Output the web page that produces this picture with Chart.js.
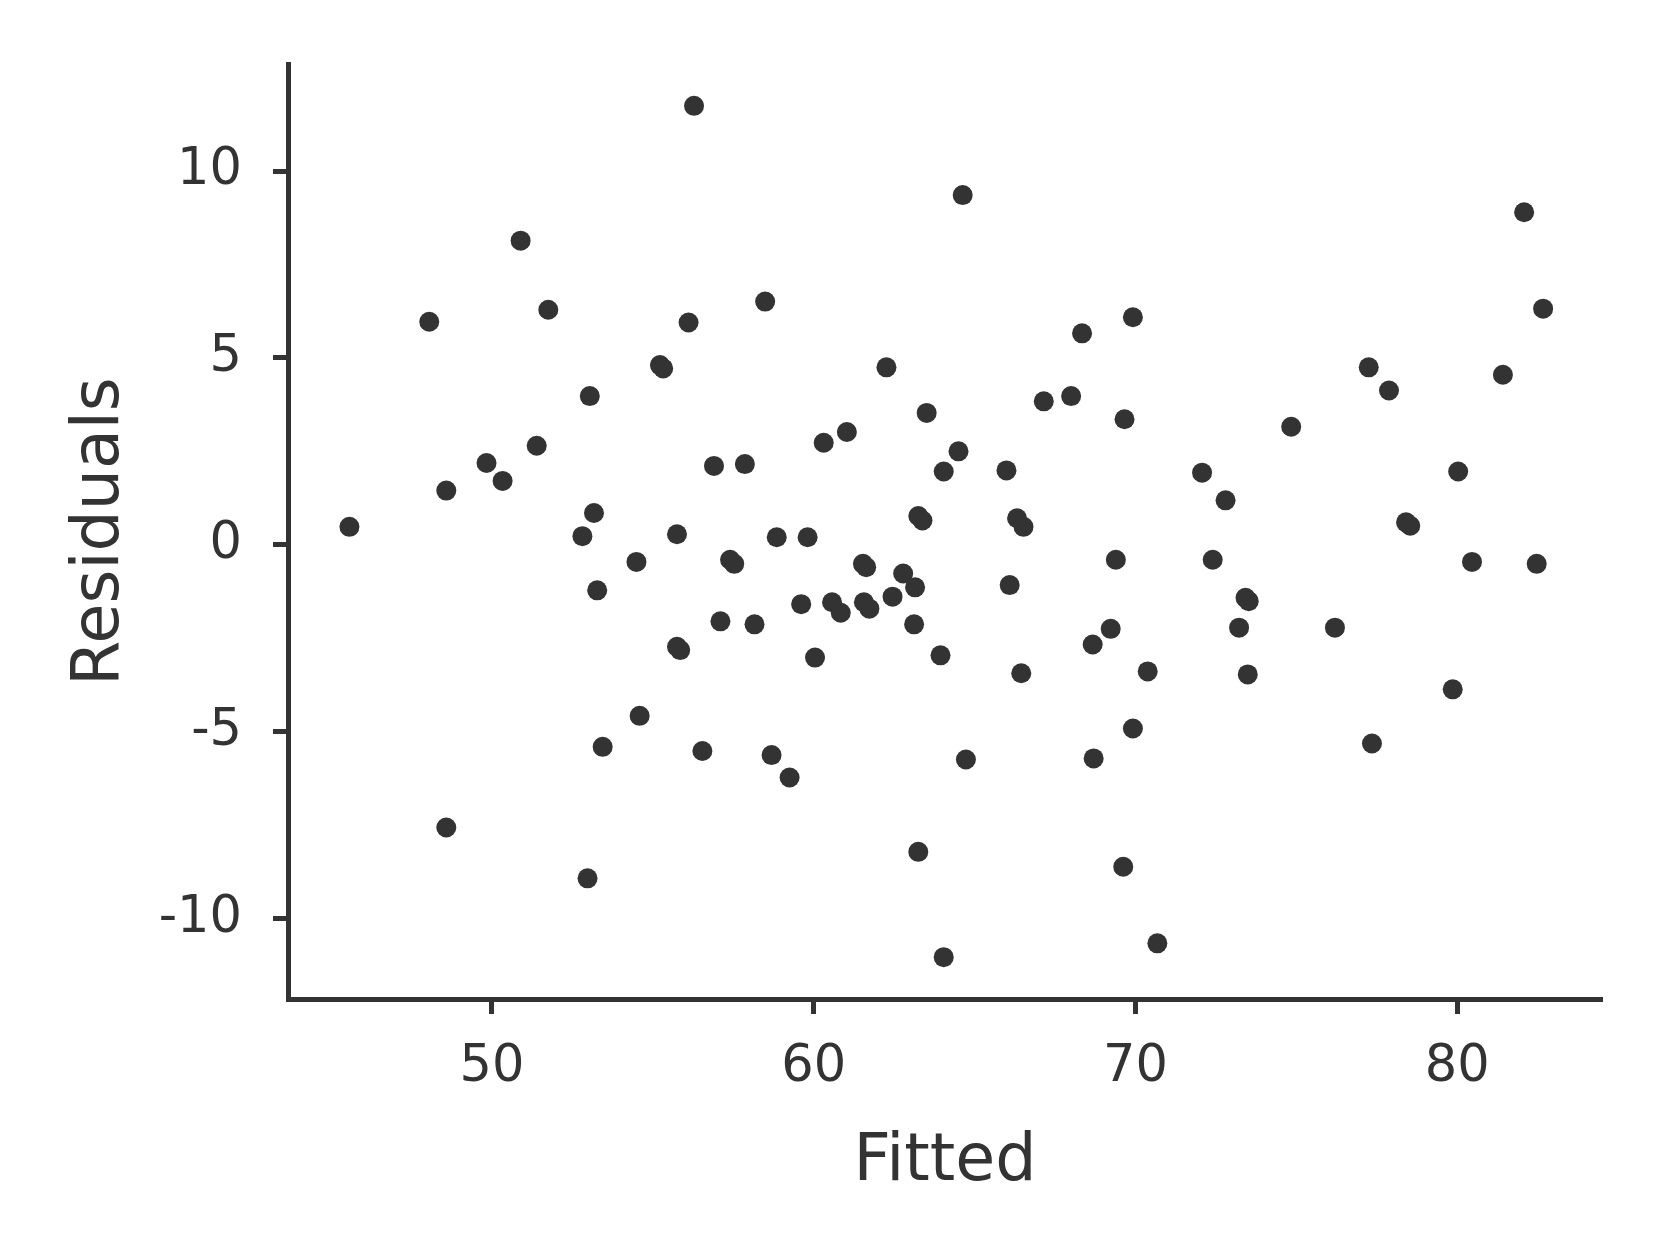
<!DOCTYPE html>
<html>
<head>
<meta charset="utf-8">
<script src="https://cdn.jsdelivr.net/npm/chart.js@4/dist/chart.umd.min.js"></script>
<style>
  html, body { margin: 0; padding: 0; background: #fff; }
  canvas { display: block; }
</style>
</head>
<body>
<canvas id="resid-chart" width="1667" height="1250"></canvas>
<script>
// Fitted values vs residuals
const fitted = [45.57, 48.05, 48.58, 48.58, 49.83, 50.33, 50.89, 51.39, 51.75, 52.81,
    52.97, 53.04, 53.17, 53.27, 53.44, 54.49, 54.59, 55.22, 55.32, 55.75,
    55.75, 55.85, 56.11, 56.28, 56.54, 56.90, 57.10, 57.40, 57.53, 57.86,
    58.16, 58.49, 58.69, 58.85, 59.25, 59.61, 59.81, 60.04, 60.31, 60.57,
    60.84, 61.03, 61.53, 61.63, 61.56, 61.73, 62.26, 62.45, 62.78, 63.15,
    63.12, 63.25, 63.38, 63.25, 63.51, 63.94, 64.04, 64.04, 64.50, 64.63,
    64.73, 65.99, 66.09, 66.32, 66.52, 66.45, 67.15, 68.00, 68.34, 68.67,
    68.70, 69.23, 69.39, 69.62, 69.66, 69.92, 69.92, 70.38, 70.68, 72.07,
    72.40, 72.80, 73.22, 73.42, 73.52, 73.49, 74.84, 76.20, 77.25, 77.35,
    77.88, 78.41, 78.54, 79.86, 80.03, 80.46, 81.42, 82.08, 82.47, 82.67];
const residuals = [0.48, 5.97, 1.45, -7.57, 2.19, 1.71, 8.14, 2.65, 6.29, 0.23,
    -8.93, 3.98, 0.85, -1.22, -5.41, -0.46, -4.58, 4.81, 4.72, 0.28,
    -2.73, -2.82, 5.95, 11.75, -5.52, 2.11, -2.05, -0.40, -0.51, 2.16,
    -2.13, 6.51, -5.63, 0.20, -6.23, -1.59, 0.20, -3.02, 2.73, -1.54,
    -1.82, 3.02, -0.51, -0.60, -1.54, -1.71, 4.75, -1.39, -0.77, -1.14,
    -2.13, 0.77, 0.65, -8.22, 3.53, -2.96, 1.96, -11.04, 2.50, 9.36,
    -5.75, 1.99, -1.08, 0.71, 0.48, -3.44, 3.84, 3.98, 5.66, -2.67,
    -5.72, -2.25, -0.40, -8.62, 3.36, 6.09, -4.92, -3.39, -10.67, 1.93,
    -0.40, 1.19, -2.22, -1.42, -1.51, -3.47, 3.16, -2.22, 4.75, -5.32,
    4.13, 0.60, 0.51, -3.87, 1.96, -0.46, 4.55, 8.90, -0.51, 6.32];

const xTicks = [50, 60, 70, 80];
const yTicks = [-10, -5, 0, 5, 10];

const ink = '#333333';
const points = fitted.map((x, i) => ({ x: x, y: residuals[i] }));

// shared axis look: plain axis line + outward ticks, no grid
function axisGrid() {
    return {
        display: true,
        drawOnChartArea: false,
        drawTicks: true,
        tickLength: 15,
        tickWidth: 5,
        tickColor: ink
    };
}

new Chart(document.getElementById('resid-chart'), {
    type: 'scatter',
    data: {
        datasets: [{
            data: points,
            backgroundColor: ink,
            borderWidth: 0,
            pointRadius: 10,
            pointHoverRadius: 10
        }]
    },
    options: {
        responsive: false,
        animation: false,
        devicePixelRatio: 1,
        layout: { padding: { top: 64, right: 65, left: 0, bottom: 0 } },
        plugins: {
            legend: { display: false },
            tooltip: { enabled: false }
        },
        scales: {
            x: {
                type: 'linear',
                min: 43.66,
                max: 84.5,
                afterBuildTicks: scale => { scale.ticks = xTicks.map(v => ({ value: v })); },
                afterFit: scale => { scale.height = 251; },
                grid: axisGrid(),
                border: { display: true, color: ink, width: 5 },
                ticks: {
                    color: ink,
                    padding: 23,
                    maxRotation: 0,
                    font: { family: 'DejaVu Sans', size: 51 }
                },
                title: {
                    display: true,
                    text: 'Fitted',
                    color: ink,
                    font: { family: 'DejaVu Sans', size: 65 },
                    padding: { top: 0, bottom: 48 }
                }
            },
            y: {
                type: 'linear',
                min: -12.16,
                max: 12.87,
                afterBuildTicks: scale => { scale.ticks = yTicks.map(v => ({ value: v })); },
                afterFit: scale => { scale.width = 288; },
                grid: axisGrid(),
                border: { display: true, color: ink, width: 5 },
                ticks: {
                    color: ink,
                    padding: 31,
                    font: { family: 'DejaVu Sans', size: 51 }
                },
                title: {
                    display: true,
                    text: 'Residuals',
                    color: ink,
                    font: { family: 'DejaVu Sans', size: 65 },
                    padding: { top: 62, bottom: 0 }
                }
            }
        }
    }
});
</script>
</body>
</html>
